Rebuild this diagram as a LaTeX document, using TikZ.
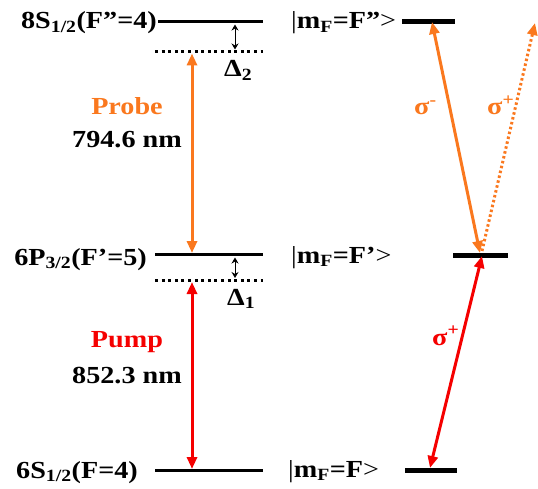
\documentclass[tikz,border=0pt]{standalone}
\usepackage{fontspec}
\setmainfont{Liberation Serif}
\usetikzlibrary{arrows.meta}
\definecolor{probeor}{RGB}{250,120,30}
\definecolor{pumpred}{RGB}{245,0,0}
\tikzset{
  level/.style={line width=3pt, black},
  sublevel/.style={line width=5pt, black},
  virt/.style={line width=3pt, dash pattern=on 3pt off 3.6pt},
  dtarrow/.style={line width=1pt, {Stealth[length=6pt,width=7pt]}-{Stealth[length=6pt,width=7pt]}},
  laser/.style={line width=3pt, {Triangle[length=12pt,width=10pt]}-{Triangle[length=12pt,width=10pt]}},
  txt/.style={inner sep=0pt, font=\bfseries\fontsize{24.5}{28}\selectfont\addfontfeature{FakeStretch=1.15}},
}
\begin{document}
\begin{tikzpicture}[x=1pt,y=-1pt]
\useasboundingbox (0,0) rectangle (538,489);
% level coordinates
\coordinate (TopL) at (158,21.5);  \coordinate (TopR) at (263,21.5);
\coordinate (VTopL) at (155,52);   \coordinate (VTopR) at (263,52);
\coordinate (MidL) at (155,254.5); \coordinate (MidR) at (263,254.5);
\coordinate (VMidL) at (155,280.5);\coordinate (VMidR) at (263,280.5);
\coordinate (BotL) at (155,470.5); \coordinate (BotR) at (263,470.5);
\draw[level] (TopL) -- (TopR);
\draw[virt] (VTopL) -- (VTopR);
\draw[level] (MidL) -- (MidR);
\draw[virt] (VMidL) -- (VMidR);
\draw[level] (BotL) -- (BotR);
% labels
\node[txt, anchor=base east] (l8s) at (157,28.5) {8S\textsubscript{1/2}(F”=4)};
\node[txt, anchor=base east] (l6p) at (147,265) {6P\textsubscript{3/2}(F’=5)};
\node[txt, anchor=base east] (l6s) at (138,478) {6S\textsubscript{1/2}(F=4)};
% detunings
\coordinate (D2a) at (235,24.5); \coordinate (D2b) at (235,49.5);
\draw[dtarrow] (D2a) -- (D2b);
\node[txt, anchor=base west] (d2) at (224,77) {Δ\textsubscript{2}};
\coordinate (D1a) at (235,257.5); \coordinate (D1b) at (235,278);
\draw[dtarrow] (D1a) -- (D1b);
\node[txt, anchor=base west] (d1) at (227,305) {Δ\textsubscript{1}};
% probe and pump
\coordinate (PrT) at (192,53.5); \coordinate (PrB) at (192,253);
\draw[laser, probeor] (PrT) -- (PrB);
\coordinate (PuT) at (192,282); \coordinate (PuB) at (192,469);
\draw[laser, pumpred] (PuT) -- (PuB);
\node[txt, probeor, anchor=base] (probe) at (127,115) {Probe};
\node[txt, anchor=base] (lp) at (127,148) {794.6 nm};
\node[txt, pumpred, anchor=base] (pump) at (127,347) {Pump};
\node[txt, anchor=base] (lpu) at (127,383) {852.3 nm};
% right side
\node[txt, anchor=base west] (m3) at (291,28.5) {{\mdseries|}m\textsubscript{F}=F”{\mdseries>}};
\node[txt, anchor=base west] (m2) at (291,263) {{\mdseries|}m\textsubscript{F}=F’{\mdseries>}};
\node[txt, anchor=base west] (m1) at (288,477) {{\mdseries|}m\textsubscript{F}=F{\mdseries>}};
\coordinate (S3L) at (402,21.5); \coordinate (S3R) at (455,21.5);
\coordinate (S2L) at (453,255); \coordinate (S2R) at (508,255);
\coordinate (S1L) at (405,470.5); \coordinate (S1R) at (457,470.5);
\draw[sublevel] (S3L) -- (S3R);
\draw[sublevel] (S2L) -- (S2R);
\draw[sublevel] (S1L) -- (S1R);
\coordinate (A3) at (432,22); \coordinate (A2) at (480,253);
\draw[laser, probeor] (A3) -- (A2);
\coordinate (A2b) at (482,251); \coordinate (AX) at (535,23);
\draw[probeor, line width=3pt, dash pattern=on 2.5pt off 2.5pt, -{Triangle[length=12pt,width=10pt]}] (A2b) -- (AX);
\coordinate (B1) at (430,468); \coordinate (B2) at (482,256);
\draw[laser, pumpred] (B1) -- (B2);
\node[txt, probeor, anchor=base west] (sm) at (414,115) {σ\textsuperscript{-}};
\node[txt, probeor, anchor=base west] (sp) at (487,115) {σ\textsuperscript{+}};
\node[txt, pumpred, anchor=base west] (sr) at (432,345) {σ\textsuperscript{+}};
\end{tikzpicture}
\end{document}
